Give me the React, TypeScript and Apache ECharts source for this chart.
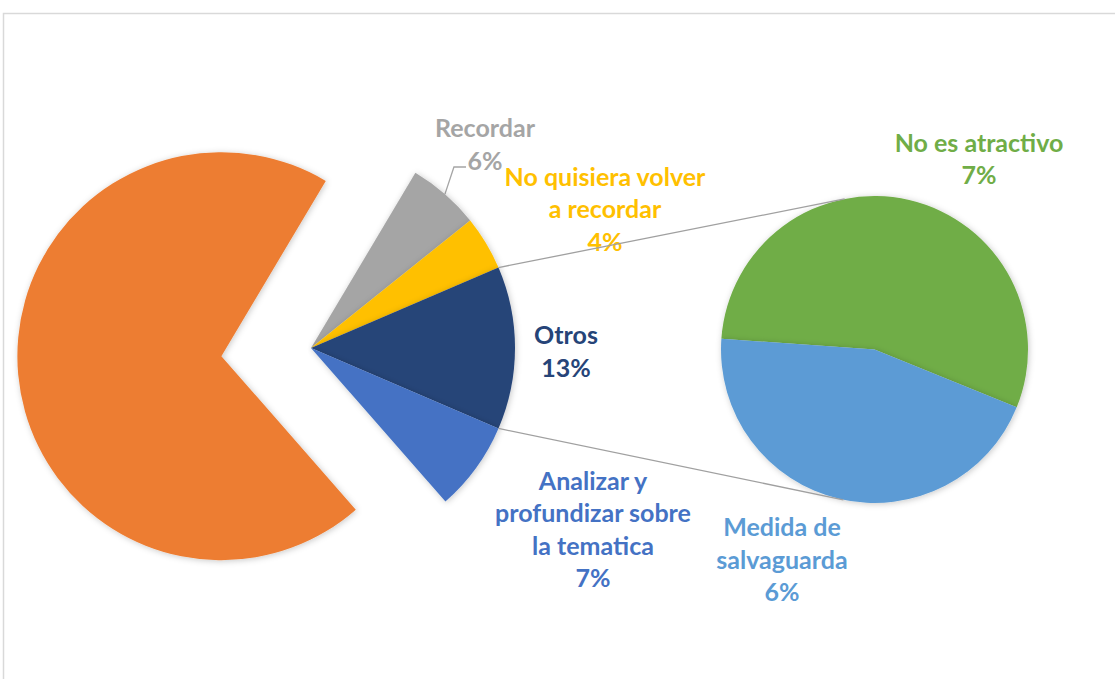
import React, { useEffect, useRef } from 'react';
import * as echarts from 'echarts';

// ---- Data ----
const mainCategories = ['Recordar', 'No quisiera volver a recordar', 'Otros', 'Analizar y profundizar sobre la tematica', 'Resto'];
const mainLabelText = ['Recordar', 'No quisiera volver\na recordar', 'Otros', 'Analizar y\nprofundizar sobre\nla tematica', ''];
const mainValues = [5.7, 4.3, 12.9, 7.1, 70.0];
const subCategories = ['No es atractivo', 'Medida de salvaguarda'];
const subLabelText = ['No es atractivo', 'Medida de\nsalvaguarda'];
const subValues = [7.1, 5.8];

// ---- Styles / layout ----
const mainColors = ['#A5A5A5', '#FFC000', '#264478', '#4472C4', '#ED7D31'];
const mainLabelColors = ['#A5A5A5', '#FFC000', '#264478', '#4472C4', '#ED7D31'];
const subColors = ['#70AD47', '#5B9BD5'];
const subLabelColors = ['#70AD47', '#5B9BD5'];

const MAIN_C = [311, 348];
const MAIN_R = 204;
const EXPLODE = 90;
const SUB_C = [874.5, 349.5];
const SUB_R = 153.5;
const MAIN_LABEL_POS: (number[] | null)[] = [[485, 143.5], [605, 208], [566, 350.5], [593, 528.5], null];
const SUB_LABEL_POS = [[979, 158], [782, 558.5]];
const FONT = 'Lato';
const FONT_SIZE = 25;
const LINE_H = 32.5;
const OTROS_INDEX = 2;

const TOTAL = mainValues.reduce((a, b) => a + b, 0);
const DEG = Math.PI / 180;

export default function App() {
  const ref = useRef<HTMLDivElement>(null);
  useEffect(() => {
    if (!ref.current) return;
    const chart = echarts.init(ref.current, undefined, { renderer: 'svg' });

    const before = mainValues.slice(0, OTROS_INDEX).reduce((a, b) => a + b, 0);
    const startAngle = ((before + mainValues[OTROS_INDEX] / 2) / TOTAL) * 360;
    const upperA = startAngle - (before / TOTAL) * 360;
    const lowerA = upperA - (mainValues[OTROS_INDEX] / TOTAL) * 360;
    const pUp = [MAIN_C[0] + MAIN_R * Math.cos(upperA * DEG), MAIN_C[1] - MAIN_R * Math.sin(upperA * DEG)];
    const pLo = [MAIN_C[0] + MAIN_R * Math.cos(lowerA * DEG), MAIN_C[1] - MAIN_R * Math.sin(lowerA * DEG)];

    const tangent = (P: number[], sign: number) => {
      const dx = P[0] - SUB_C[0];
      const dy = P[1] - SUB_C[1];
      const d = Math.hypot(dx, dy);
      const base = Math.atan2(dy, dx);
      const off = Math.acos(SUB_R / d);
      const a = base + sign * off;
      return [SUB_C[0] + SUB_R * Math.cos(a), SUB_C[1] + SUB_R * Math.sin(a)];
    };
    const tUp = tangent(pUp, 1);
    const tLo = tangent(pLo, -1);

    const grayMid = startAngle - (mainValues[0] / TOTAL) * 180;
    const grayPt = [MAIN_C[0] + MAIN_R * Math.cos(grayMid * DEG), MAIN_C[1] - MAIN_R * Math.sin(grayMid * DEG)];

    const pct = (v: number) => `${Math.round((v / TOTAL) * 100)}%`;

    const labelBase = {
      show: true,
      position: 'outside',
      fontFamily: FONT,
      fontWeight: 'bold',
      fontSize: FONT_SIZE,
      lineHeight: LINE_H,
      align: 'center',
    };

    const option: any = {
      animation: false,
      backgroundColor: '#ffffff',
      graphic: [
        {
          type: 'rect',
          z: -1,
          shape: { x: 3.5, y: 13.5, width: 1300, height: 900 },
          style: { fill: 'none', stroke: '#D9D9D9', lineWidth: 1.5 },
        },
        {
          type: 'line',
          z: 100,
          shape: { x1: pUp[0], y1: pUp[1], x2: tUp[0], y2: tUp[1] },
          style: { stroke: '#A0A0A0', lineWidth: 1.3 },
        },
        {
          type: 'line',
          z: 100,
          shape: { x1: pLo[0], y1: pLo[1], x2: tLo[0], y2: tLo[1] },
          style: { stroke: '#A0A0A0', lineWidth: 1.3 },
        },
      ],
      series: [
        {
          type: 'pie',
          center: MAIN_C,
          radius: [0, MAIN_R],
          startAngle,
          clockwise: true,
          selectedMode: 'single',
          selectedOffset: EXPLODE,
          avoidLabelOverlap: false,
          emphasis: { disabled: true },
          itemStyle: { shadowBlur: 6, shadowColor: 'rgba(0,0,0,0.22)', shadowOffsetX: 1, shadowOffsetY: 1 },
          label: {
            ...labelBase,
            formatter: (p: any) => `${mainLabelText[p.dataIndex]}\n${pct(p.value)}`,
          },
          labelLine: { show: false },
          labelLayout: (p: any) => {
            const pos = MAIN_LABEL_POS[p.dataIndex];
            if (!pos) return {};
            const res: any = { x: pos[0], y: pos[1], align: 'center', verticalAlign: 'middle' };
            if (p.dataIndex === 0) {
              res.labelLinePoints = [grayPt, [grayPt[0] + 9, 167], [466, 167]];
            }
            return res;
          },
          data: mainValues.map((v, i) => ({
            value: v,
            name: mainCategories[i],
            selected: i === mainValues.length - 1,
            itemStyle: { color: mainColors[i] },
            label: { show: i !== mainValues.length - 1, color: mainLabelColors[i] },
            labelLine: i === 0 ? { show: true, length: 20, length2: 10, lineStyle: { color: '#A5A5A5', width: 1.3 } } : { show: false },
          })),
        },
        {
          type: 'pie',
          center: SUB_C,
          radius: [0, SUB_R],
          startAngle: 176,
          clockwise: true,
          avoidLabelOverlap: false,
          emphasis: { disabled: true },
          itemStyle: { shadowBlur: 6, shadowColor: 'rgba(0,0,0,0.22)', shadowOffsetX: 1, shadowOffsetY: 1 },
          label: {
            ...labelBase,
            formatter: (p: any) => `${subLabelText[p.dataIndex]}\n${pct(p.value)}`,
          },
          labelLine: { show: false },
          labelLayout: (p: any) => {
            const pos = SUB_LABEL_POS[p.dataIndex];
            return { x: pos[0], y: pos[1], align: 'center', verticalAlign: 'middle' };
          },
          data: subValues.map((v, i) => ({
            value: v,
            name: subCategories[i],
            itemStyle: { color: subColors[i] },
            label: { color: subLabelColors[i] },
          })),
        },
      ],
    };
    chart.setOption(option);
    return () => chart.dispose();
  }, []);
  return <div ref={ref} style={{ position: 'fixed', left: 0, top: 0, width: 1115, height: 679 }} />;
}
